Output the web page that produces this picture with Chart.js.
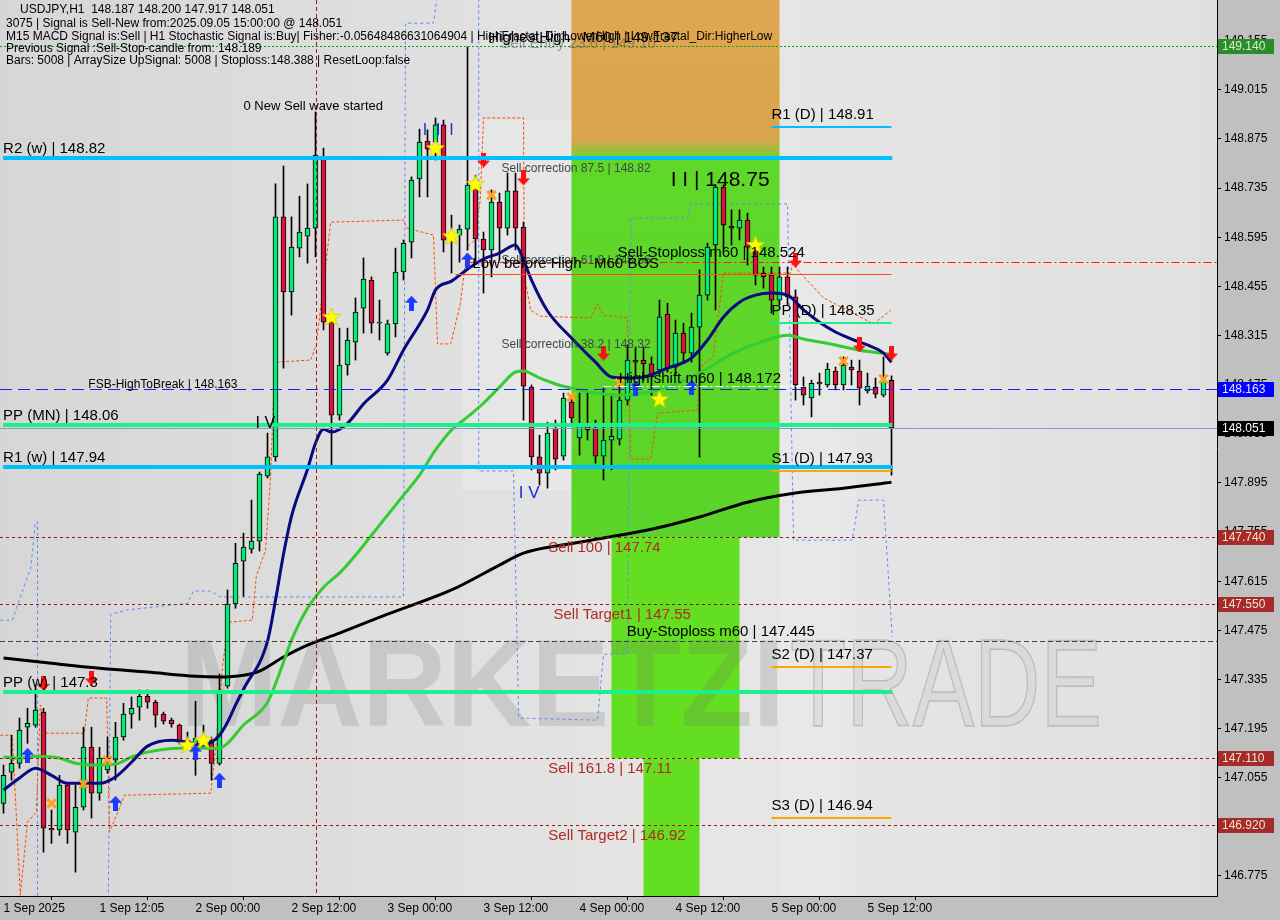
<!DOCTYPE html>
<html>
<head>
<meta charset="utf-8">
<title>USDJPY H1</title>
<script src="https://cdn.jsdelivr.net/npm/chart.js@4.4.1/dist/chart.umd.min.js"></script>
<style>
html, body { margin: 0; padding: 0; background: #c0c0c0; }
</style>
</head>
<body>
<canvas id="usdjpy-chart" width="1280" height="920"></canvas>
<script>
// USDJPY H1 candles, 1 Sep 2025 00:00 .. 5 Sep 2025 15:00 (one bar per hour)
const openPrices = [
  146.982,147.071,147.096,147.199,147.205,147.242,146.911,146.906,
  147.034,146.900,146.971,147.142,147.011,147.077,147.105,147.171,
  147.236,147.256,147.287,147.270,147.236,147.219,147.205,147.156,
  147.148,147.162,147.162,147.096,147.316,147.550,147.672,147.706,
  147.729,147.914,147.969,148.653,148.439,148.564,148.598,148.621,
  148.821,148.353,148.088,148.231,148.296,148.393,148.473,148.350,
  148.265,148.348,148.496,148.581,148.761,148.869,148.866,148.915,
  148.598,148.601,148.618,148.744,148.590,148.559,148.695,148.621,
  148.727,148.624,148.168,147.969,147.923,148.051,147.971,148.125,
  148.023,148.057,148.051,147.971,148.017,148.020,148.131,148.245,
  148.245,148.234,148.217,148.376,148.225,148.322,148.265,148.339,
  148.430,148.573,148.738,148.627,148.621,148.644,148.567,148.493,
  148.487,148.416,148.482,148.425,148.168,148.137,148.182,148.174,
  148.214,148.174,148.225,148.214,148.157,148.168,148.145,148.187
];
const highPrices = [
  147.091,147.176,147.225,147.253,147.319,147.253,146.963,147.062,
  147.042,147.034,147.199,147.199,147.142,147.171,147.213,147.267,
  147.285,147.305,147.305,147.276,147.242,147.225,147.208,147.185,
  147.273,147.205,147.171,147.350,147.590,147.723,147.752,147.846,
  147.926,148.037,148.747,148.798,148.653,148.712,148.747,148.952,
  148.849,148.365,148.336,148.336,148.422,148.536,148.482,148.416,
  148.359,148.564,148.587,148.767,148.903,148.901,148.935,148.929,
  148.658,148.630,149.137,148.772,148.610,148.730,148.721,148.778,
  148.778,148.638,148.174,148.031,148.068,148.074,148.151,148.142,
  148.151,148.151,148.074,148.165,148.145,148.174,148.288,148.282,
  148.282,148.254,148.416,148.407,148.359,148.350,148.379,148.502,
  148.578,148.744,148.744,148.673,148.673,148.664,148.578,148.510,
  148.510,148.510,148.510,148.445,148.197,148.188,148.208,148.236,
  148.225,148.254,148.245,148.245,148.208,148.194,148.254,148.200
];
const lowPrices = [
  146.954,147.048,147.082,147.153,147.199,146.843,146.868,146.891,
  146.868,146.786,146.963,146.940,146.991,147.068,147.048,147.162,
  147.196,147.219,147.253,147.199,147.208,147.199,147.151,147.139,
  147.062,147.139,147.048,147.091,147.310,147.538,147.572,147.695,
  147.701,147.909,147.957,148.222,148.373,148.539,148.521,148.539,
  148.331,147.940,148.074,148.202,148.245,148.322,148.322,148.302,
  148.259,148.311,148.473,148.536,148.710,148.710,148.815,148.553,
  148.493,148.524,148.559,148.524,148.436,148.482,148.530,148.601,
  148.559,148.074,147.932,147.889,147.880,147.932,147.960,148.060,
  147.974,148.017,147.951,147.903,147.932,148.003,148.117,148.202,
  148.188,148.145,148.202,148.211,148.202,148.239,148.239,147.969,
  148.416,148.388,148.559,148.573,148.587,148.516,148.459,148.450,
  148.379,148.402,148.402,148.131,148.117,148.083,148.145,148.168,
  148.160,148.160,148.174,148.117,148.151,148.137,148.140,147.917
];
const closePrices = [
  147.062,147.096,147.191,147.210,147.248,146.911,146.906,147.034,
  146.906,146.971,147.142,147.011,147.111,147.099,147.171,147.236,
  147.253,147.287,147.270,147.233,147.216,147.208,147.156,147.162,
  147.168,147.156,147.096,147.305,147.550,147.666,147.712,147.729,
  147.920,147.969,148.653,148.439,148.567,148.610,148.621,148.829,
  148.353,148.088,148.231,148.302,148.382,148.476,148.350,148.353,
  148.348,148.496,148.578,148.758,148.866,148.846,148.915,148.587,
  148.587,148.618,148.744,148.590,148.559,148.695,148.621,148.727,
  148.621,148.171,147.969,147.923,148.037,147.963,148.137,148.080,
  148.057,148.046,147.971,148.017,148.028,148.131,148.245,148.239,
  148.234,148.197,148.368,148.222,148.322,148.265,148.339,148.430,
  148.567,148.738,148.630,148.621,148.644,148.567,148.487,148.482,
  148.416,148.482,148.425,148.174,148.145,148.179,148.177,148.219,
  148.174,148.231,148.217,148.165,148.171,148.148,148.188,148.051
];

// moving averages: [bar, price]
const fastMa = [[0,147.020],[2,147.054],[4,147.082],[6,147.062],[8,147.039],[12,147.039],[14,147.057],[16,147.099],
  [18,147.145],[21,147.162],[23,147.156],[25,147.148],[26,147.156],[27,147.176],[28,147.213],[29,147.262],[30,147.307],
  [33,147.444],[34,147.561],[35,147.692],[36,147.800],[38,147.934],[39,148.008],[40,148.048],[41,148.040],[43,148.065],
  [45,148.120],[48,148.188],[50,148.274],[53,148.388],[54,148.445],[56,148.470],[58,148.504],[60,148.533],[62,148.550],
  [64,148.573],[65,148.530],[66,148.473],[68,148.385],[71,148.308],[74,148.239],[76,148.197],[78,148.194],[80,148.197],
  [83,148.222],[86,148.251],[88,148.302],[90,148.368],[92,148.410],[94,148.430],[96,148.436],[98,148.430],[100,148.388],
  [102,148.353],[104,148.325],[106,148.305],[108,148.288],[110,148.265],[111,148.239]];
const midMa = [[0,147.114],[2,147.111],[4,147.116],[7,147.111],[9,147.096],[11,147.091],[14,147.094],[16,147.114],
  [18,147.128],[22,147.139],[25,147.139],[27,147.139],[28,147.153],[30,147.205],[33,147.270],[35,147.384],[36,147.447],
  [38,147.538],[40,147.598],[42,147.638],[44,147.689],[46,147.746],[48,147.803],[50,147.860],[52,147.917],[54,147.989],
  [56,148.046],[58,148.083],[60,148.122],[62,148.168],[64,148.211],[65,148.214],[67,148.194],[69,148.177],[71,148.165],
  [74,148.151],[77,148.145],[80,148.151],[83,148.168],[87,148.208],[91,148.262],[95,148.299],[98,148.316],[100,148.305],
  [104,148.288],[107,148.273],[111,148.262]];
const slowMa = [[0,147.396],[6,147.381],[12,147.367],[18,147.356],[24,147.344],[27,147.342],[30,147.347],[32,147.359],
  [35,147.399],[38,147.433],[42,147.467],[48,147.521],[56,147.590],[62,147.661],[65,147.695],[72,147.726],[75,147.738],
  [81,147.763],[87,147.798],[93,147.840],[99,147.866],[105,147.880],[111,147.897]];

// trailing stop (orange dashes) and band (blue dashes): [bar, price]
const trailStop = [[-0.4,147.176],[1.1,147.176],[2.1,146.720],[3,146.928],[4.1,146.957],[4.6,147.262],[5.25,147.182],
  [10.1,147.182],[10.6,147.282],[12.9,147.282],[13.25,146.900],[14.4,146.963],[15.1,147.005],[25.9,147.011],
  [26.4,147.105],[27.4,147.376],[28.1,147.498],[31.1,147.504],[31.6,147.629],[32.75,147.703],[33.4,147.917],
  [33.9,148.239],[38.4,148.245],[39.1,148.288],[40.9,148.638],[50,148.644],[50.4,148.621],[53.75,148.601],
  [54.25,148.291],[55.9,148.291],[57.1,148.405],[58,148.567],[58.75,148.584],[59.6,148.701],[60,148.935],
  [65,148.935],[65.1,148.484],[65.9,148.387],[67.1,148.370],[73.4,148.365],[74.25,148.405],[75,148.373],
  [78,148.365],[78.4,147.963],[80.9,147.963],[81.75,148.094],[86.75,148.102],[87.1,148.225],[88.75,148.256],
  [89.25,148.356],[90,148.493],[98.4,148.493],[98.75,148.536],[99.25,148.502],[102.5,148.422],[105.5,148.387],
  [108.75,148.348],[110.9,148.387]];
const bandLine = [[-0.4,147.504],[1.1,147.504],[2.1,147.570],[3.4,147.652],[4,147.783],[4.25,147.783],[4.25,146.700],
  [13.1,146.700],[13.4,147.521],[15.4,147.533],[23,147.552],[23.75,147.587],[25.9,147.587],[27.1,147.570],
  [50,147.570],[50.25,149.205],[53.75,149.205],[54.25,149.290],[59.4,149.290],[59.4,147.929],[63.75,147.929],
  [64.4,147.225],[74.25,147.219],[75,147.407],[78,147.407],[78.4,148.650],[85.5,148.650],[85.9,148.690],
  [98,148.690],[98.75,147.732],[106.1,147.732],[106.9,147.846],[110,147.846],[111.1,147.456]];

// signal marks: [bar, price]
const sellArrows = [[5,147.324],[11,147.339],[60,148.815],[65,148.764],[75,148.265],[99,148.530],[107,148.288],[111,148.265]];
const buyArrows = [[3,147.119],[14,146.982],[24,147.128],[27,147.048],[51,148.407],[58,148.530],[79,148.165],[86,148.168]];
const stars = [[23,147.148],[25,147.162],[41,148.368],[54,148.849],[56,148.598],[59,148.747],[82,148.134],[94,148.573]];
const crosses = [[6,146.982],[10,147.037],[13,147.105],[61,148.715],[71,148.140],[77,148.179],[105,148.242],[110,148.191]];

// levels
const pivotNames = ['R2 (w)', 'PP (MN)', 'R1 (w)', 'PP (w)'];
const pivotValues = [148.82, 148.06, 147.94, 147.3];
const dailyNames = ['R1 (D)', 'PP (D)', 'S1 (D)', 'S2 (D)', 'S3 (D)'];
const dailyValues = [148.91, 148.35, 147.93, 147.37, 146.94];
const sellNames = ['Sell 100', 'Sell Target1', 'Sell 161.8', 'Sell Target2'];
const sellValues = [147.74, 147.55, 147.11, 146.92];
const corrNames = ['Sell correction 87.5', 'Sell correction 61.8', 'Sell correction 38.2'];
const corrValues = [148.82, 148.56, 148.32];
const entryLevel = 149.14;
const highestHigh = 149.137;
const swingHigh = 148.75;
const sellStop = 148.524;
const bosLevel = 148.49;
const highShift = 148.172;
const fsbLevel = 148.163;
const buyStop = 147.445;

// target zone (bars from/to, price top/bottom)
const zoneFrom = [71, 76, 80];
const zoneTo = [97, 92, 87];
const zoneTop = [149.271, 147.74, 147.11];
const zoneBottom = [147.74, 147.11, 146.718];

const tickBars = [0, 12, 24, 36, 48, 60, 72, 84, 96, 108];
const tickLabels = ['1 Sep 2025', '1 Sep 12:05', '2 Sep 00:00', '2 Sep 12:00', '3 Sep 00:00',
  '3 Sep 12:00', '4 Sep 00:00', '4 Sep 12:00', '5 Sep 00:00', '5 Sep 12:00'];
const priceTicks = [146.775, 146.915, 147.055, 147.195, 147.335, 147.475, 147.615, 147.755, 147.895,
  148.035, 148.175, 148.315, 148.455, 148.595, 148.735, 148.875, 149.015, 149.155];

const FONT = 'Liberation Sans';

function arrowIcon(color, up) {
  const c = document.createElement('canvas');
  c.width = 13; c.height = 15;
  const g = c.getContext('2d');
  g.fillStyle = color;
  g.beginPath();
  if (up) {
    g.moveTo(6.5, 0); g.lineTo(13, 7); g.lineTo(9, 7); g.lineTo(9, 15); g.lineTo(4, 15); g.lineTo(4, 7); g.lineTo(0, 7);
  } else {
    g.moveTo(6.5, 15); g.lineTo(13, 8); g.lineTo(9, 8); g.lineTo(9, 0); g.lineTo(4, 0); g.lineTo(4, 8); g.lineTo(0, 8);
  }
  g.closePath();
  g.fill();
  return c;
}

function starIcon() {
  const c = document.createElement('canvas');
  c.width = 20; c.height = 20;
  const g = c.getContext('2d');
  g.beginPath();
  for (let k = 0; k < 10; k++) {
    const r = k % 2 ? 4 : 9.5;
    const a = -Math.PI / 2 + k * Math.PI / 5;
    g.lineTo(10 + r * Math.cos(a), 10.5 + r * Math.sin(a));
  }
  g.closePath();
  g.fillStyle = '#ffff00';
  g.fill();
  g.strokeStyle = '#d8c000';
  g.lineWidth = 0.7;
  g.stroke();
  return c;
}

const toPoints = arr => arr.map(p => ({x: p[0], y: p[1]}));
const bars = openPrices.map((_, i) => i);

// no extra padding around the plot
const noPad = s => { s.paddingLeft = 0; s.paddingRight = 0; s.paddingTop = 0; s.paddingBottom = 0; };

const bgPlugin = {
  id: 'bg',
  beforeDraw(chart) {
    const {ctx, chartArea: a} = chart;
    ctx.save();
    ctx.fillStyle = '#c0c0c0';
    ctx.fillRect(0, 0, chart.width, chart.height);
    const grd = ctx.createLinearGradient(a.left, 0, a.right, 0);
    grd.addColorStop(0, '#d6d6d6');
    grd.addColorStop(0.6, '#e6e6e6');
    grd.addColorStop(1, '#e0e0e0');
    ctx.fillStyle = grd;
    ctx.fillRect(a.left, a.top, a.right - a.left, a.bottom - a.top);
    // faint logo panels
    ctx.fillStyle = 'rgba(255,255,255,0.18)';
    ctx.fillRect(462, 120, 109, 370);
    ctx.fillStyle = 'rgba(255,255,255,0.12)';
    ctx.fillRect(778, 200, 78, a.bottom - 200);
    ctx.restore();
  }
};

const zonePlugin = {
  id: 'zones',
  beforeDatasetsDraw(chart) {
    const {ctx, scales: {x, y}} = chart;
    ctx.save();
    for (let i = 0; i < zoneFrom.length; i++) {
      const x0 = x.getPixelForValue(zoneFrom[i]);
      const x1 = x.getPixelForValue(zoneTo[i]);
      const y0 = y.getPixelForValue(zoneTop[i]);
      const y1 = y.getPixelForValue(zoneBottom[i]);
      if (i === 0) {
        const g = ctx.createLinearGradient(0, y0, 0, y1);
        g.addColorStop(0, '#dea650');
        g.addColorStop(0.26, '#d9a54c');
        g.addColorStop(0.30, '#5fd82a');
        g.addColorStop(1, '#5ad428');
        ctx.fillStyle = g;
      } else {
        ctx.fillStyle = '#64de20';
      }
      ctx.fillRect(x0, y0, x1 - x0, y1 - y0);
    }
    // watermark
    ctx.font = 'bold 124px ' + FONT;
    ctx.textBaseline = 'alphabetic';
    let w = ctx.measureText('MARKETZI').width;
    ctx.save();
    ctx.translate(180, 726);
    ctx.scale(605 / w, 1);
    ctx.fillStyle = 'rgba(110,110,110,0.2)';
    ctx.fillText('MARKETZI', 0, 0);
    ctx.restore();
    ctx.font = '124px ' + FONT;
    w = ctx.measureText('TRADE').width;
    ctx.save();
    ctx.translate(790, 726);
    ctx.scale(312 / w, 1);
    ctx.fillStyle = 'rgba(200,200,200,0.3)';
    ctx.fillText('TRADE', 0, 0);
    ctx.strokeStyle = 'rgba(120,120,120,0.35)';
    ctx.lineWidth = 1.5;
    ctx.strokeText('TRADE', 0, 0);
    ctx.restore();
    ctx.restore();
  }
};

function hline(ctx, x, y, v, from, to, color, width, dash) {
  const py = Math.round(y.getPixelForValue(v)) + (width % 2 ? 0.5 : 0);
  ctx.beginPath();
  ctx.strokeStyle = color;
  ctx.lineWidth = width;
  ctx.setLineDash(dash || []);
  ctx.moveTo(from === null ? x.left : x.getPixelForValue(from), py);
  ctx.lineTo(to === null ? x.right : x.getPixelForValue(to), py);
  ctx.stroke();
}

function label(ctx, x, y, text, bar, v, dy, size, color) {
  ctx.font = size + 'px ' + FONT;
  ctx.fillStyle = color || '#000';
  ctx.textBaseline = 'alphabetic';
  ctx.textAlign = 'left';
  ctx.fillText(text, x.getPixelForValue(bar), y.getPixelForValue(v) + dy);
}

const overlayPlugin = {
  id: 'overlay',
  afterDatasetsDraw(chart) {
    const {ctx, scales: {x, y}} = chart;
    ctx.save();
    // vertical marker
    const vx = Math.round(x.getPixelForValue(39)) + 0.5;
    ctx.beginPath();
    ctx.strokeStyle = '#b01818';
    ctx.lineWidth = 1;
    ctx.setLineDash([4, 3]);
    ctx.moveTo(vx, y.top);
    ctx.lineTo(vx, y.bottom);
    ctx.stroke();

    // full width lines
    hline(ctx, x, y, entryLevel, null, null, '#1a9a1a', 1, [2, 2]);
    hline(ctx, x, y, fsbLevel, null, null, '#1028e0', 1, [12, 6]);
    hline(ctx, x, y, closePrices[closePrices.length - 1], null, null, '#7f9cc0', 1, []);
    sellValues.forEach(v => hline(ctx, x, y, v, null, null, '#8b1a1a', 1, [3, 3]));
    hline(ctx, x, y, buyStop, null, null, '#404040', 1, [5, 3]);
    hline(ctx, x, y, sellStop, 58, null, '#ff1a1a', 1, [8, 3, 2, 3]);
    hline(ctx, x, y, bosLevel, 56.5, 111, '#ff4a10', 1, []);
    hline(ctx, x, y, highShift, 75, 100, '#ffffff', 1, [8, 3, 2, 3]);

    // pivots
    const pivotColors = ['#00bfff', '#1cf08c', '#00bfff', '#1cf08c'];
    pivotValues.forEach((v, i) => hline(ctx, x, y, v, -0.05, 111.1, pivotColors[i], 4, []));
    const dailyColors = ['#00bfff', '#1cf08c', '#ffa500', '#ffa500', '#ffa500'];
    dailyValues.forEach((v, i) => hline(ctx, x, y, v, 96, 111, dailyColors[i], 2, []));

    ctx.setLineDash([]);
    // texts
    pivotNames.forEach((n, i) => label(ctx, x, y, n + ' | ' + pivotValues[i], -0.05, pivotValues[i], -5, 15));
    dailyNames.forEach((n, i) => label(ctx, x, y, n + ' | ' + dailyValues[i], 96, dailyValues[i], -8, 15));
    const sellBars = [68.1, 68.75, 68.1, 68.1];
    sellNames.forEach((n, i) => label(ctx, x, y, n + ' | ' + sellValues[i], sellBars[i], sellValues[i], 15, 15, '#b22a22'));
    corrNames.forEach((n, i) => label(ctx, x, y, n + ' | ' + corrValues[i], 62.25, corrValues[i], 14, 12, '#3e4848'));
    label(ctx, x, y, 'Sell Entry 23.6 | 149.10', 62.1, entryLevel, 2, 15, 'rgba(90,90,90,0.55)');
    label(ctx, x, y, 'HighestHigh   M60 | ' + highestHigh, 60.6, highestHigh, -5, 15);
    label(ctx, x, y, 'I I | ' + swingHigh, 83.4, swingHigh, 3, 21);
    label(ctx, x, y, 'Sell-Stoploss m60 | ' + sellStop, 76.75, sellStop, -5, 15);
    label(ctx, x, y, 'Low before High   M60 BOS', 58.6, bosLevel, -6, 15);
    label(ctx, x, y, 'FSB-HighToBreak | ' + fsbLevel, 10.6, fsbLevel, -1, 12);
    label(ctx, x, y, 'High shift m60 | ' + highShift, 76.9, highShift, -3, 15);
    label(ctx, x, y, 'Buy-Stoploss m60 | ' + buyStop, 77.9, buyStop, -5, 15);
    label(ctx, x, y, '0 New Sell wave started', 30, 148.958, 0, 13);
    label(ctx, x, y, 'I V', 31.5, 148.051, 0, 16);
    label(ctx, x, y, 'I V', 64.4, 147.852, 0, 17, '#1030e0');
    label(ctx, x, y, 'I  I  I', 52.4, 148.886, 0, 16, '#1030e0');
    ctx.restore();
  },
  afterDraw(chart) {
    const {ctx, scales: {y}} = chart;
    ctx.save();
    // price boxes on the axis
    const boxValues = [entryLevel, fsbLevel, closePrices[closePrices.length - 1]].concat(sellValues);
    const boxColors = ['#2a8c2a', '#0000ff', '#000000', '#a52a2a', '#a52a2a', '#a52a2a', '#a52a2a'];
    const boxText = ['#d8f0d0', '#e8e8ff', '#ffffff', '#f2e4cc', '#f2e4cc', '#f2e4cc', '#f2e4cc'];
    ctx.font = '12px ' + FONT;
    ctx.textBaseline = 'middle';
    boxValues.forEach((v, i) => {
      const py = Math.round(y.getPixelForValue(v));
      ctx.fillStyle = boxColors[i];
      ctx.fillRect(y.left + 1, py - 7, 56, 15);
      ctx.fillStyle = boxText[i];
      ctx.fillText(v.toFixed(3), y.left + 5, py + 1);
    });
    // header block
    ctx.fillStyle = '#000';
    ctx.textBaseline = 'middle';
    const head = [
      [20, 10, 'USDJPY,H1  148.187 148.200 147.917 148.051'],
      [6, 24, '3075 | Signal is Sell-New from:2025.09.05 15:00:00 @ 148.051'],
      [6, 37, 'M15 MACD Signal is:Sell | H1 Stochastic Signal is:Buy| Fisher:-0.05648486631064904 | HighFractal_Dir:LowerHigh | LowFractal_Dir:HigherLow'],
      [6, 49, 'Previous Signal :Sell-Stop-candle from: 148.189'],
      [6, 61, 'Bars: 5008 | ArraySize UpSignal: 5008 | Stoploss:148.388 | ResetLoop:false']
    ];
    head.forEach(h => ctx.fillText(h[2], h[0], h[1]));
    ctx.restore();
  }
};

const canvas = document.getElementById('usdjpy-chart');
const usdjpyChart = new Chart(canvas, {
  type: 'bar',
  data: {
    datasets: [
      {
        type: 'line', label: 'band', data: toPoints(bandLine),
        borderColor: '#5a8cf0', borderWidth: 1, borderDash: [3, 3], pointRadius: 0, tension: 0, order: 8
      },
      {
        type: 'line', label: 'trail', data: toPoints(trailStop),
        borderColor: '#ff4a00', borderWidth: 1, borderDash: [3, 2], pointRadius: 0, tension: 0, order: 7
      },
      {
        label: 'wicks',
        data: bars.map(i => ({x: i, y: [lowPrices[i], highPrices[i]]})),
        backgroundColor: '#000',
        barThickness: 1,
        grouped: false,
        order: 6
      },
      {
        label: 'bodies',
        data: bars.map(i => ({x: i, y: [openPrices[i], closePrices[i]]})),
        backgroundColor: bars.map(i => closePrices[i] >= openPrices[i] ? '#00ee77' : '#dc143c'),
        borderColor: '#000',
        borderWidth: 1,
        borderSkipped: false,
        barThickness: 5,
        minBarLength: 1,
        grouped: false,
        order: 5
      },
      {
        type: 'line', label: 'MA slow', data: toPoints(slowMa),
        borderColor: '#000', borderWidth: 3, pointRadius: 0, cubicInterpolationMode: 'monotone', order: 3
      },
      {
        type: 'line', label: 'MA mid', data: toPoints(midMa),
        borderColor: '#33cc33', borderWidth: 3, pointRadius: 0, cubicInterpolationMode: 'monotone', order: 2
      },
      {
        type: 'line', label: 'MA fast', data: toPoints(fastMa),
        borderColor: '#0a0a80', borderWidth: 3, pointRadius: 0, cubicInterpolationMode: 'monotone', order: 1
      },
      {
        type: 'line', label: 'sell', data: toPoints(sellArrows), showLine: false,
        pointStyle: arrowIcon('#ff1010', false), order: 0
      },
      {
        type: 'line', label: 'buy', data: toPoints(buyArrows), showLine: false,
        pointStyle: arrowIcon('#1a3cff', true), order: 0
      },
      {
        type: 'line', label: 'stars', data: toPoints(stars), showLine: false,
        pointStyle: starIcon(), order: 0
      },
      {
        type: 'line', label: 'crosses', data: toPoints(crosses), showLine: false,
        pointStyle: 'crossRot', pointRadius: 6, pointBorderColor: '#ffa020', pointBorderWidth: 3, order: 0
      }
    ]
  },
  options: {
    responsive: false,
    animation: false,
    layout: { padding: 0, autoPadding: false },
    plugins: { legend: { display: false }, tooltip: { enabled: false } },
    scales: {
      x: {
        type: 'linear',
        min: -0.4375,
        max: 151.6875,
        offset: false,
        grid: { display: true, drawOnChartArea: false, drawTicks: true, tickLength: 4, color: '#000' },
        border: { display: true, color: '#000' },
        afterBuildTicks: s => { s.ticks = tickBars.map(v => ({value: v})); },
        afterFit: s => { s.height = 24; noPad(s); },
        ticks: {
          autoSkip: false, maxRotation: 0, align: 'start', padding: 1, color: '#000',
          font: { family: FONT, size: 12 },
          callback: v => tickLabels[tickBars.indexOf(v)]
        }
      },
      y: {
        type: 'linear',
        position: 'right',
        min: 146.718,
        max: 149.271,
        grid: { display: true, drawOnChartArea: false, drawTicks: true, tickLength: 4, color: '#000' },
        border: { display: true, color: '#000' },
        afterBuildTicks: s => { s.ticks = priceTicks.map(v => ({value: v})); },
        afterFit: s => { s.width = 63; noPad(s); },
        ticks: {
          padding: 3, color: '#000',
          font: { family: FONT, size: 12 },
          callback: v => v.toFixed(3)
        }
      }
    }
  },
  plugins: [bgPlugin, zonePlugin, overlayPlugin]
});
</script>
</body>
</html>
